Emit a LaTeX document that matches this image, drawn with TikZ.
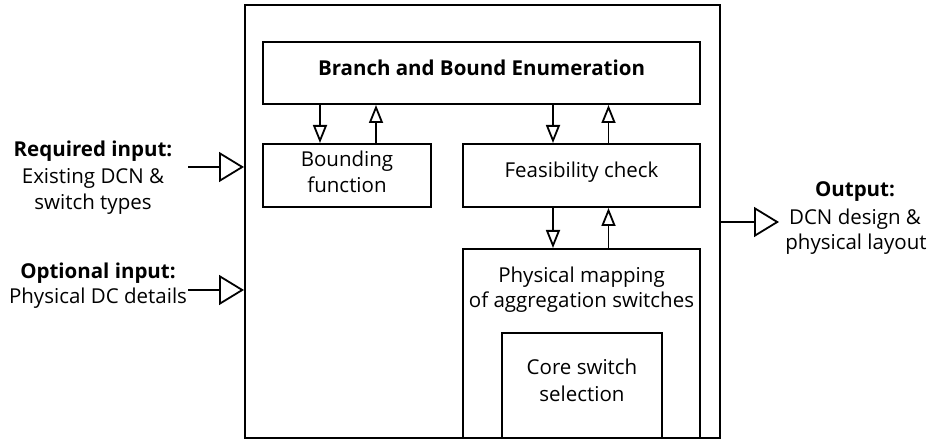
\documentclass[tikz,border=0pt]{standalone}
\usepackage{fontspec}
\setmainfont{Open Sans}
\usetikzlibrary{arrows.meta}
\begin{document}
\begin{tikzpicture}[x=1pt,y=-1pt,
  frame/.style={draw, line width=2pt, inner sep=0pt},
  lbl/.style={anchor=base, inner sep=0pt, font=\fontsize{20.5}{26}\selectfont},
  bold/.style={lbl, font=\fontsize{20.5}{26}\selectfont\bfseries},
  flow/.style={line width=1.8pt, -{Triangle[open, length=18pt, width=14pt, line width=1.8pt]}},
  io/.style={line width=1.8pt, -{Triangle[open, length=25pt, width=30pt, line width=1.8pt]}}]
\useasboundingbox (0,0) rectangle (930,443);

% enclosing block and its inner stages
\node[frame, minimum width=475pt, minimum height=433pt] (outer) at (482.5,221.5) {};
\node[frame, minimum width=437pt, minimum height=62pt] (branch) at (481.5,73) {};
\node[frame, minimum width=168pt, minimum height=63pt] (bound) at (347,175.5) {};
\node[frame, minimum width=237pt, minimum height=63pt] (feas) at (581.5,175.5) {};
\node[frame, minimum width=237pt, minimum height=189pt] (mapping) at (581.5,343.5) {};
\node[frame, minimum width=160pt, minimum height=105pt] (core) at (582,385.5) {};

% box captions
\node[bold] (tbranch) at (481.5,76) {Branch and Bound Enumeration};
\node[lbl] (tbound1) at (347,167) {Bounding};
\node[lbl] (tbound2) at (347,193) {function};
\node[lbl] (tfeas) at (581.5,178) {Feasibility check};
\node[lbl] (tmap1) at (581.5,283) {Physical mapping};
\node[lbl] (tmap2) at (581.5,308) {of aggregation switches};
\node[lbl] (tcore1) at (582,375) {Core switch};
\node[lbl] (tcore2) at (582,402) {selection};

% inputs and output
\node[bold] (treq) at (93,157) {Required input:};
\node[lbl] (treq1) at (93,184) {Existing DCN \&};
\node[lbl] (treq2) at (93,210) {switch types};
\node[bold] (topt) at (98,279) {Optional input:};
\node[lbl] (topt1) at (98,304) {Physical DC details};
\node[bold] (tout) at (855,197) {Output:};
\node[lbl] (tout1) at (855,225) {DCN design \&};
\node[lbl] (tout2) at (856,250) {physical layout};

\coordinate (reqin) at (188,167);
\coordinate (optin) at (188,290);
\coordinate (outend) at (779,222);
\draw[io] (reqin) -- (reqin -| outer.west);
\draw[io] (optin) -- (optin -| outer.west);
\draw[io] (outer.east |- outend) -- (outend);

% exchanges between the stages
\draw[flow] ([xshift=-27pt]bound.north |- branch.south) -- ([xshift=-27pt]bound.north);
\draw[flow] ([xshift=29pt]bound.north) -- ([xshift=29pt]bound.north |- branch.south);
\draw[flow] ([xshift=-28.5pt]feas.north |- branch.south) -- ([xshift=-28.5pt]feas.north);
\draw[flow] ([xshift=27pt]feas.north) -- ([xshift=27pt]feas.north |- branch.south);
\draw[flow] ([xshift=-28.5pt]mapping.north |- feas.south) -- ([xshift=-28.5pt]mapping.north);
\draw[flow] ([xshift=27pt]mapping.north) -- ([xshift=27pt]mapping.north |- feas.south);
\end{tikzpicture}
\end{document}
